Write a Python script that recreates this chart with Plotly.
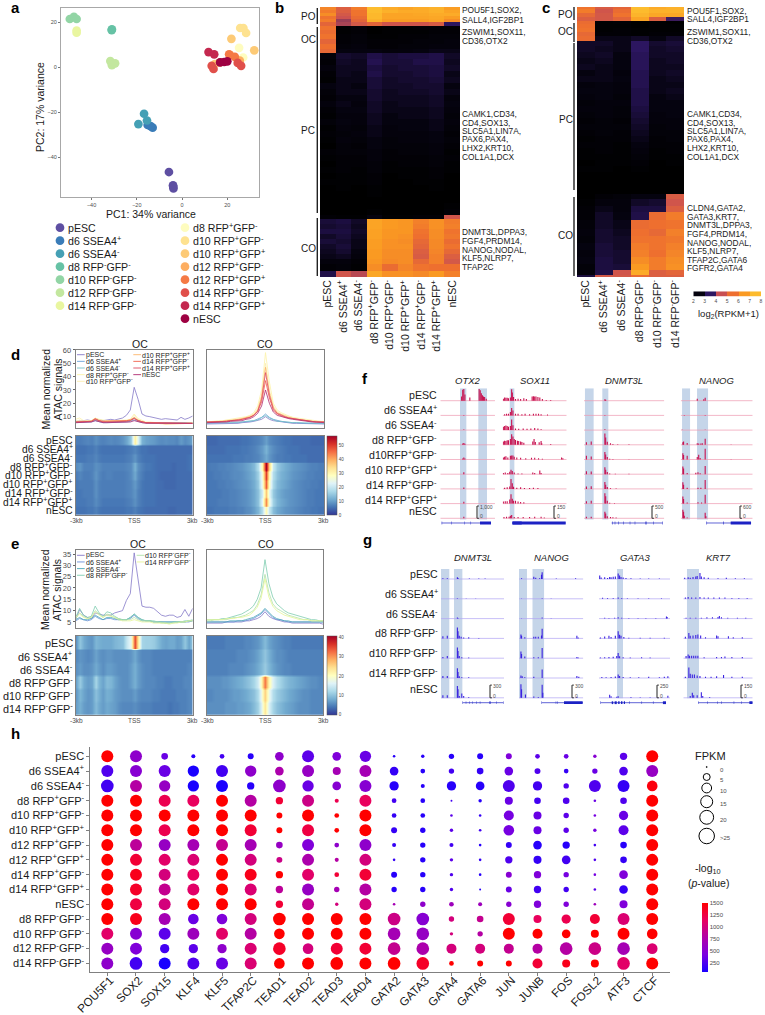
import math
import plotly.graph_objects as go

W, H = 765, 1015
FONT = "Liberation Sans"
DARK = "#1a1a1a"
GREY = "#4d4d4d"

# ---------- panel a ----------
a_names = ["pESC","d6 SSEA4<sup>+</sup>","d6 SSEA4<sup>-</sup>","d8 RFP<sup>-</sup>GFP<sup>-</sup>","d10 RFP<sup>-</sup>GFP<sup>-</sup>","d12 RFP<sup>-</sup>GFP<sup>-</sup>","d14 RFP<sup>-</sup>GFP<sup>-</sup>",
           "d8 RFP<sup>+</sup>GFP<sup>-</sup>","d10 RFP<sup>+</sup>GFP<sup>-</sup>","d10 RFP<sup>+</sup>GFP<sup>+</sup>","d12 RFP<sup>+</sup>GFP<sup>-</sup>","d12 RFP<sup>+</sup>GFP<sup>+</sup>","d14 RFP<sup>+</sup>GFP<sup>-</sup>","d14 RFP<sup>+</sup>GFP<sup>+</sup>","nESC"]
a_colors = ["#5e4fa2","#3a7cb8","#45a0b5","#66c2a5","#92d5a5","#c3e79f","#e9f6a0","#fefcbf","#fee290","#fdca76","#fdae61","#f57a45","#e04f4a","#c4284f","#9e0142"]
a_x = [[-5.8,-4,-3.8,-3.9],[-15.2,-13,-13.9],[-16.8,-15.5,-19.3],[-31.1,-31],[-49.6,-47.8,-46.6],[-31.7,-31,-29.6],[-46.6,-46.6],
       [25.2,27],[25.7,27.1,28.3],[21.8,31.9,14.5],[16.8,21.2,25.5],[20.8,23.3],[13.1,13.9,24.6,26.1],[11.7,14.2],[16.8,18.6,20]]
a_y = [[-46.5,-52.4,-53.8,-53],[-25.6,-26.8,-26.1],[-20.6,-23.6,-25.2],[16.6,16.9],[21.5,22.5,21.5],[2.8,1,1.8],[16.4,15.4],
       [8.7,4.4],[17.5,17.5,15.3],[12.7,7.6,1.5],[2.2,5.5,3],[5.8,4.7],[0.7,-0.7,2,0.7],[6.8,5.8],[2.2,2.4,2.7]]

# ---------- expression scale ----------
expr_stops = [2,2.5,3.5,4.5,5.5,6.5,7.5,8]
expr_cols = ["#000000","#05030f","#2c1660","#c84f52","#ee6f2f","#fa9a22","#fdbb2d","#fdc533"]
expr_bar_vals = [2.5,3.5,4.5,5.5,6.5,7.5]

# ---------- panel b ----------
b_samples = ["pESC","d6 SSEA4<sup>+</sup>","d6 SSEA4<sup>-</sup>","d8 RFP<sup>+</sup>GFP<sup>-</sup>","d10 RFP<sup>+</sup>GFP<sup>-</sup>","d10 RFP<sup>+</sup>GFP<sup>+</sup>","d14 RFP<sup>+</sup>GFP<sup>-</sup>","d14 RFP<sup>+</sup>GFP<sup>+</sup>","nESC"]
b_counts = [3,3,3,3,3,4, 4,4,5,5,5,4] + [6]*27 + [4,5,5,5,5,5,5,5,5,5,7,6]
b_matrix = [
 [6.0,5.0,5.8,7.6,7.0,6.8,7.0,7.2,6.6],[5.8,5.0,5.6,7.6,7.2,7.0,7.0,7.2,6.8],[6.2,4.8,5.6,7.4,6.8,6.8,6.9,7.0,7.0],
 [5.6,4.6,5.4,7.4,6.8,6.8,6.8,6.9,6.6],[5.8,4.2,5.2,7.2,6.6,6.6,6.6,6.8,6.2],[5.2,4.3,4.8,5.2,4.7,4.7,4.7,4.9,3.5],
 [5.6,2.1,2.3,2.0,2.1,2.1,2.2,2.2,2.2],[5.4,2.1,2.2,2.0,2.1,2.1,2.1,2.2,2.2],[5.6,2.2,2.3,2.1,2.1,2.2,2.2,2.3,2.3],
 [5.2,2.2,2.3,2.2,2.2,2.2,2.3,2.3,2.4],[5.5,2.3,2.4,2.2,2.2,2.3,2.3,2.4,2.4],[5.3,2.5,2.5,2.5,2.4,2.4,2.5,2.6,2.6],
 [2.3,2.9,2.8,3.2,3.0,3.1,3.1,3.2,2.8],[2.2,2.8,2.7,3.3,3.0,3.0,3.2,3.2,2.7],[2.4,2.7,2.7,3.1,2.9,3.0,3.0,3.1,2.8],
 [2.2,2.7,2.6,3.2,2.9,2.9,3.0,3.1,2.6],[2.1,2.6,2.6,3.0,2.8,2.9,2.9,3.0,2.7],[2.5,2.6,2.5,3.0,2.8,2.8,2.9,2.9,2.5],
 [2.3,2.6,2.6,2.9,2.7,2.8,2.8,2.9,2.6],[2.2,2.5,2.5,2.9,2.7,2.7,2.7,2.8,2.4],[2.4,2.6,2.4,2.8,2.6,2.7,2.7,2.8,2.5],
 [2.2,2.5,2.5,2.8,2.6,2.6,2.6,2.7,2.4],[2.1,2.4,2.4,2.7,2.5,2.6,2.6,2.7,2.3],[2.3,2.5,2.4,2.7,2.5,2.5,2.5,2.6,2.4],
 [2.1,2.4,2.3,2.6,2.4,2.5,2.5,2.6,2.3],[2.2,2.3,2.4,2.6,2.4,2.4,2.4,2.5,2.2],[2.1,2.4,2.3,2.5,2.3,2.4,2.4,2.5,2.3],
 [2.0,2.3,2.2,2.5,2.3,2.3,2.3,2.4,2.2],[2.2,2.3,2.3,2.4,2.2,2.3,2.3,2.4,2.1],[2.1,2.2,2.2,2.4,2.2,2.2,2.2,2.3,2.2],
 [2.0,2.2,2.2,2.3,2.1,2.2,2.2,2.3,2.1],[2.1,2.2,2.1,2.3,2.1,2.1,2.1,2.2,2.1],[2.0,2.1,2.1,2.2,2.0,2.1,2.1,2.2,2.0],
 [2.1,2.1,2.1,2.2,2.0,2.0,2.1,2.1,2.0],[2.0,2.1,2.0,2.1,2.0,2.0,2.0,2.1,2.0],[2.0,2.0,2.0,2.1,2.0,2.0,2.0,2.0,2.0],
 [2.0,2.0,2.0,2.0,2.0,2.0,2.0,2.0,2.0],[2.0,2.0,2.0,2.0,2.0,2.0,2.0,2.0,2.1],[2.0,2.0,2.0,2.1,2.0,2.0,2.0,2.0,2.2],
 [2.2,2.1,2.1,2.5,2.1,2.1,2.2,2.2,4.7],
 [3.0,3.1,2.8,6.8,6.5,6.4,5.9,6.3,5.8],[2.9,3.0,2.7,6.8,6.5,6.4,5.8,6.3,5.9],[3.1,3.1,2.8,6.7,6.4,6.4,5.6,6.2,5.6],
 [2.8,3.0,2.7,6.7,6.4,6.3,5.5,6.2,5.7],[3.0,2.9,2.6,6.6,6.3,6.2,5.3,6.1,5.4],[2.8,3.0,2.6,6.6,6.3,6.3,5.2,6.1,5.6],
 [2.7,2.9,2.5,6.5,6.2,6.2,5.0,6.0,5.3],[2.6,2.7,2.4,6.5,6.2,6.2,4.9,5.9,5.0],[2.4,2.4,2.2,6.4,6.1,6.2,5.3,5.9,4.8],
 [2.2,2.3,2.1,6.2,5.4,6.0,5.6,5.5,5.5],[3.2,4.7,4.4,6.9,6.3,6.3,6.1,6.5,5.9],
]
b_po = ["POU5F1,SOX2,","SALL4,IGF2BP1"]
b_oc = ["ZSWIM1,SOX11,","CD36,OTX2"]
b_pc = ["CAMK1,CD34,","CD4,SOX13,","SLC5A1,LIN7A,","PAX6,PAX4,","LHX2,KRT10,","COL1A1,DCX"]
b_co = ["DNMT3L,DPPA3,","FGF4,PRDM14,","NANOG,NODAL,","KLF5,NLRP7,","TFAP2C"]

# ---------- panel c ----------
c_samples = ["pESC","d6 SSEA4<sup>+</sup>","d6 SSEA4<sup>-</sup>","d8 RFP<sup>-</sup>GFP<sup>-</sup>","d10 RFP<sup>-</sup>GFP<sup>-</sup>","d14 RFP<sup>-</sup>GFP<sup>-</sup>"]
c_counts = [4,4,4,3, 4,4,4,4,5] + [6]*25 + [2] + [7,7,6,10,7,7,7,7,7,7,5,5]
c_matrix = [
 [5.6,4.9,5.2,7.6,7.0,7.2],[5.8,4.7,5.4,7.5,7.2,7.2],[5.3,4.8,5.6,7.3,6.9,6.9],[5.0,4.8,5.2,6.8,5.0,3.6],
 [5.4,2.1,2.2,2.0,2.1,2.0],[5.5,2.1,2.1,2.0,2.1,2.1],[5.6,2.1,2.2,2.1,2.1,2.1],[5.3,2.2,2.2,2.1,2.2,2.2],[5.4,2.6,2.6,2.8,2.5,2.8],
 [2.8,2.8,2.6,3.5,2.9,3.0],[2.8,2.7,2.6,3.5,2.8,2.9],[2.7,2.8,2.5,3.4,2.8,2.8],[2.6,2.7,2.5,3.4,2.7,2.8],[2.7,2.6,2.5,3.4,2.7,2.7],
 [2.5,2.6,2.4,3.3,2.7,2.8],[2.6,2.6,2.5,3.3,2.6,2.7],[2.4,2.5,2.4,3.3,2.6,2.6],[2.5,2.5,2.4,3.2,2.6,2.7],[2.4,2.5,2.3,3.2,2.5,2.6],
 [2.3,2.4,2.4,3.2,2.5,2.5],[2.4,2.4,2.3,3.1,2.5,2.5],[2.3,2.4,2.3,3.0,2.4,2.5],[2.2,2.3,2.2,2.9,2.4,2.4],[2.3,2.3,2.3,2.8,2.3,2.4],
 [2.2,2.3,2.2,2.7,2.3,2.3],[2.1,2.2,2.2,2.6,2.2,2.3],[2.2,2.2,2.1,2.5,2.2,2.2],[2.1,2.2,2.1,2.4,2.1,2.2],[2.1,2.1,2.1,2.3,2.1,2.1],
 [2.0,2.1,2.1,2.2,2.0,2.1],[2.1,2.1,2.0,2.1,2.0,2.0],[2.0,2.0,2.0,2.0,2.0,2.0],[2.0,2.0,2.0,2.0,2.0,2.0],[2.0,2.0,2.0,2.0,2.0,2.0],
 [2.0,2.0,2.0,2.0,2.0,2.0],
 [2.0,2.2,2.3,2.5,2.5,4.9],[2.1,2.4,2.4,2.8,2.9,4.7],[2.2,2.6,2.4,3.1,3.1,5.0],
 [2.2,2.8,2.5,3.2,5.4,5.8],[2.3,2.8,2.6,5.4,5.5,5.6],[2.4,2.9,2.7,5.5,5.3,5.9],[2.3,2.9,2.8,5.6,5.6,5.7],[2.5,3.0,2.8,5.8,5.6,5.9],
 [2.4,3.0,2.9,5.9,5.5,6.0],[2.5,3.1,2.9,6.2,5.8,6.2],[2.3,3.1,3.0,6.5,5.8,6.3],[2.4,3.2,4.7,7.0,5.0,5.2],[3.1,4.8,4.8,5.4,5.0,5.0],
]
c_po = ["POU5F1,SOX2,","SALL4,IGF2BP1"]
c_oc = ["ZSWIM1,SOX11,","CD36,OTX2"]
c_pc = ["CAMK1,CD34,","CD4,SOX13,","SLC5A1,LIN7A,","PAX6,PAX4,","LHX2,KRT10,","COL1A1,DCX"]
c_co = ["CLDN4,GATA2,","GATA3,KRT7,","DNMT3L,DPPA3,","FGF4,PRDM14,","NANOG,NODAL,","KLF5,NLRP7,","TFAP2C,GATA6","FGFR2,GATA4"]

# ---------- panels d / e ----------
profile_x = [-3.0,-2.8,-2.6,-2.4,-2.2,-2.0,-1.8,-1.6,-1.4,-1.2,-1.0,-0.8,-0.6,-0.4,-0.2,0.0,0.2,0.4,0.6,0.8,1.0,1.2,1.4,1.6,1.8,2.0,2.2,2.4,2.6,2.8,3.0]
d_labels = ["pESC","d6 SSEA4<sup>+</sup>","d6 SSEA4<sup>-</sup>","d8 RFP<sup>+</sup>GFP<sup>-</sup>","d10 RFP<sup>+</sup>GFP<sup>-</sup>","d10 RFP<sup>+</sup>GFP<sup>+</sup>","d14 RFP<sup>+</sup>GFP<sup>-</sup>","d14 RFP<sup>+</sup>GFP<sup>+</sup>","nESC"]
d_colors = ["#8478c8","#6aa3d8","#74c2c8","#fdf3a8","#fdeeb0","#fdb56a","#f2604a","#dc4a60","#b02a70"]
d_oc = [
 [6.5,6.5,7,7.5,7,8.5,7.5,7,7.5,8,7.5,8,9,11,15,32,23,12,10.5,10,9.5,8.5,8,8.5,8,8,7.5,9.5,8,9,10.5],
 [5.5,5.5,5.5,6,6,7,6,5.5,5.5,5.5,5.5,5.5,5.5,6,6.5,7.5,6.5,5.5,5.5,5,5,5,5,5,5,5,5,5,5,5,5],
 [6,6,6,6.5,6.5,7.5,6.5,6,6,6,6,6,6,6.5,7,9,7,6,5.5,5.5,5.5,5,5,5,5,5,5,5,5,5.5,5.5],
 [8,9,7,7,7,8.5,8,7,7,7,7,7,7,7.5,8,12,8.5,7,6,6,5.5,5,5,5,5,4.5,5,5,5,5.5,5.5],
 [6.5,7.5,6.5,6.5,7,9,7.5,6.5,7,7,6.5,6.5,6.5,7,8,11,8,6.5,5.5,5.5,5.5,5,4.5,4.5,4.5,4.5,5,5,5,5,5],
 [6,6.5,6.5,6.5,6.5,8.5,7,6.5,6.5,6.5,6.5,6.5,6.5,7,7.5,9.5,7.5,6,5.5,5.5,5.5,5,5,4.5,4.5,4.5,5,5,5,5,5],
 [6,6,6.5,6.5,6.5,8.5,7,6.5,6.5,6.5,6.5,6.5,6.5,7,7.5,9,7,6,5.5,5.5,5.5,5,5,5,5,5,5,5,5,5,5],
 [6,6,6,6.5,6.5,8,7,6,6,6,6,6,6,6.5,7,8.5,7,6,5.5,5.5,5.5,5,5,5,5,5,5,5,5,5,5],
 [5.5,5.5,5.5,6,6,7,6,5.5,5.5,5.5,5.5,5.5,5.5,6,6,7,6,5.5,5,5,5,5,5,5,4.5,4.5,5,5,5,5,5],
]
d_co = [
 [4.5,4.5,4.5,5,5,5,5,5,5,5.5,5.5,6,6.5,7,8,10,8,7,6.5,6,5.5,5.5,5,5,5,5,5,4.5,4.5,4.5,4.5],
 [5,5,5,5,5,5.5,5.5,5.5,5.5,6,6,6.5,7,8,9.5,12,9.5,8,7,6.5,6,5.5,5.5,5.5,5,5,5,5,5,5,5],
 [5.5,5.5,5.5,5.5,5.5,5.5,5.5,6,6,6,6.5,6.5,7,7.5,9,11,9,7.5,6.5,6.5,6,6,5.5,5.5,5.5,5.5,5,5,5,5,5],
 [6,6.5,6.5,7,7,7.5,7.5,8,8.5,9,10,11,13,18,30,58,36,20,15,13,11.5,10.5,9.5,9,8.5,8,7.5,7,7,6.5,6.5],
 [6,6,6.5,6.5,7,7,7.5,8,8,8.5,9.5,10.5,12,16,26,50,30,18,14,12,11,10,9,8.5,8,7.5,7,7,6.5,6.5,6],
 [6,6,6,6.5,6.5,7,7,7.5,8,8.5,9,10,11.5,15,25,47,28,17,13,11.5,10.5,9.5,8.5,8,7.5,7,7,6.5,6.5,6,6],
 [6,6,6,6,6.5,6.5,7,7,7.5,8,8.5,9.5,11,14,21,37,24,15,12,10.5,9.5,9,8.5,8,7.5,7,6.5,6.5,6,6,6],
 [6,6,6,6.5,6.5,6.5,7,7,7.5,8,8.5,9.5,11,14,23,43,26,16,12.5,11,10,9,8.5,8,7.5,7,6.5,6.5,6,6,6],
 [5.5,5.5,6,6,6,6,6.5,6.5,7,7,8,8.5,10,12.5,18,30,20,13.5,11,10,9,8.5,8,7.5,7,6.5,6.5,6,6,5.5,5.5],
]
e_labels = ["pESC","d6 SSEA4<sup>+</sup>","d6 SSEA4<sup>-</sup>","d8 RFP<sup>-</sup>GFP<sup>-</sup>","d10 RFP<sup>-</sup>GFP<sup>-</sup>","d14 RFP<sup>-</sup>GFP<sup>-</sup>"]
e_colors = ["#8478c8","#6a90d8","#4aa8b8","#7fcdb0","#b0e2a8","#e6f598"]
e_oc = [
 [6,10.5,8,7,6.5,9,8.5,8,8,8,9,9.5,10,14.5,17.5,35.5,24,12,11.5,11.5,11,9.5,8,7.5,8,8,7,7.5,10.5,7.5,11],
 [5.5,6.5,6,5.5,6,7.5,6.5,6,6.5,6.5,6,6,6,6,6.5,8,6.5,5.5,5.5,5.5,5,5,5,5,5,5,5,5,5,5,5.5],
 [6,7,6,6,6.5,8,7,6,7,7,6.5,6,6,6,7,8.5,7,6,5.5,5.5,5,5,5,5,5,5,5,5,5,5.5,5.5],
 [7,11,8,7,7.5,12,9,7.5,9.5,9,7.5,6.5,6,6,7,8.5,7,6,5.5,5.5,5.5,5,5,4.5,4.5,5,5,5,5.5,5.5,6],
 [6.5,9,7.5,6.5,7,10,8.5,7,8.5,8,7,6.5,6,6,6,7,6,5.5,5.5,5.5,5,5,4.5,4.5,4.5,4.5,5,5,5,5.5,5.5],
 [7,8.5,7,6.5,7,9.5,8,7,8,7.5,7,6,5.5,5.5,5.5,6,5.5,5,5,5,4.5,4.5,4.5,4.5,4,4.5,4.5,5,5,5.5,5.5],
]
e_co = [
 [4.5,4.5,4.5,4.5,4.5,5,5,5,5,5,5.5,5.5,6,6.5,7.5,9.5,7.5,6.5,6,5.5,5,5,4.5,4.5,4.5,4.5,4.5,4.5,4.5,4.5,4],
 [5,5,5,5,5,5,5,5,5.5,5.5,5.5,6,6.5,7.5,8.5,10.5,8.5,7,6,6,5.5,5,5,5,5,5,5,5,5,5,5],
 [5,5,5,5,5,5,5.5,5.5,5.5,5.5,6,6.5,7,8,9,11,9,7.5,6.5,6,5.5,5.5,5,5,5,5,5,5,5,5,5],
 [6,6,6,6,6.5,6.5,7,7.5,8,8.5,9.5,10.5,12,15,20,32.5,22,16,13,11.5,10,9,8.5,8,7.5,7,6.5,6,6,5.5,5.5],
 [5.5,5.5,6,6,6,6,6.5,7,7,7.5,8,9,10,12.5,17,26,18,13,11,10,9,8,7.5,7,6.5,6,6,5.5,5.5,5.5,5.5],
 [6,6,6,6,6,6.5,6.5,6.5,7,7,7.5,8,9.5,11.5,15.5,24,16,12,10,9,8,7.5,7,6.5,6,6,6,5.5,5.5,5.5,5.5],
]
rdylbu = ["#313695","#4575b4","#74add1","#abd9e9","#e0f3f8","#ffffbf","#fee090","#fdae61","#f46d43","#d73027","#a50026"]

# ---------- panel f ----------
f_labels = ["pESC","d6 SSEA4<sup>+</sup>","d6 SSEA4<sup>-</sup>","d8 RFP<sup>+</sup>GFP<sup>-</sup>","d10RFP<sup>+</sup>GFP<sup>-</sup>","d10 RFP<sup>+</sup>GFP<sup>+</sup>","d14 RFP<sup>+</sup>GFP<sup>-</sup>","d14 RFP<sup>+</sup>GFP<sup>+</sup>","nESC"]
f_genes = ["OTX2","SOX11","DNMT3L","NANOG"]
f_scales = [1000,150,500,600]
f_scale_text = ["1,000","150","500","600"]
f_otx2 = [[(39,350),(41,900),(43,950),(45,500),(54,250),(71,950),(73,850),(75,600),(77,450),(79,350),(81,300),(84,150)],
 [(43,40)],[(43,40)],[(41,100),(43,150),(45,80)],[(41,80),(43,170),(45,80)],[(43,150)],[(43,120)],[(43,150)],[(43,130)]]
f_sox11 = [
 [(1,25),(3,40),(5,35),(7,35),(9,30),(12,40),(14,140),(15,100),(17,45),(20,20),(24,25),(28,20),(33,30),(37,20),(46,50),(48,55),(50,50),(52,50),(55,45),(58,40),(62,20),(68,10),(75,10)],
 [(3,15),(6,20),(9,20),(12,40),(14,90),(16,60),(20,20),(24,20),(30,15),(35,20),(42,15),(48,20),(52,20),(56,20),(60,15),(70,10)],
 [(1,40),(3,50),(5,55),(7,50),(9,40),(12,50),(14,130),(16,60),(20,20),(25,15),(32,20),(38,15),(44,20),(50,25),(55,20),(60,10)],
 [(1,40),(3,50),(5,45),(7,55),(9,55),(12,70),(14,130),(16,100),(18,70),(20,60),(23,50),(25,45),(28,40),(30,35),(33,25),(47,40),(49,70),(51,35),(57,30),(60,45),(61,20),(75,10)],
 [(1,25),(3,35),(5,40),(8,25),(12,45),(14,50),(16,50),(18,35),(22,25),(28,20),(36,15),(45,20),(50,20),(56,15),(62,10),(92,25),(94,15)],
 [(1,15),(4,20),(8,15),(11,30),(13,55),(15,40),(18,20),(24,10),(30,10),(47,20),(50,15),(58,45),(60,15)],
 [(3,15),(7,20),(11,30),(13,120),(15,70),(17,25),(22,15),(28,20),(34,10),(42,10),(48,15),(55,10)],
 [(1,25),(4,30),(7,30),(11,50),(13,115),(15,60),(17,35),(20,35),(24,25),(28,20),(33,15)],
 [(2,15),(6,20),(10,20),(12,30),(14,40),(18,15),(24,15),(32,15),(42,15),(50,20),(60,20),(65,10)]]
f_dnmt3l = [
 [(26,60),(27,40)],[(26,15)],[(26,30)],
 [(3,100),(9,130),(26,460),(27,300),(29,120),(33,60),(36,30),(42,25),(56,20)],
 [(3,150),(9,120),(26,300),(27,200),(29,100),(32,30),(36,20),(56,15)],
 [(3,120),(9,110),(26,280),(27,180),(29,90),(32,30),(39,15),(56,15)],
 [(3,100),(9,110),(26,280),(27,170),(29,80),(33,30),(40,15)],
 [(3,100),(9,120),(26,420),(27,300),(29,120),(32,30),(38,20)],
 [(3,60),(9,60),(26,270),(27,200),(29,80),(33,50),(36,40),(40,30)]]
f_nanog = [
 [(23,90),(32,70),(34,140)],[(5,15),(34,15)],[(2,20),(34,20)],
 [(3,120),(4,160),(9,90),(23,80),(25,60),(28,60),(30,70),(34,300),(70,15)],
 [(3,300),(4,220),(9,180),(23,120),(25,230),(27,70),(34,520),(70,15)],
 [(3,370),(4,280),(9,60),(21,70),(24,90),(27,50),(34,400)],
 [(3,330),(4,200),(9,50),(24,60),(28,50),(34,430)],
 [(3,350),(4,220),(9,50),(24,60),(29,50),(34,430)],
 [(3,420),(4,320),(5,120),(9,40),(34,270),(35,100)]]
f_bands = [[(36,47.6),(69.5,85.4)],[(11,18.2)],[(1.2,12),(22.8,30.3)],[(1.9,13),(22.7,38)]]
f_spans = [(2.4,92.7),(15,98.4),(34.4,97.8),(36.1,97.7)]
f_exons = [[(2.6,3.4),(20.6,21.4),(44.4,45.2),(55.4,56.2),(72.6,92.7)],[(15,98.4),(15.6,29.7)],
           [(35.4,36),(38.3,38.9),(42.4,43),(48.7,49.3),(57,57.6),(63.2,63.8),(76.6,77.8),(86,86.6),(97.5,98.1)],
           [(35.8,36.6),(59,59.8),(69.4,97.7)]]

# ---------- panel g ----------
g_labels = ["pESC","d6 SSEA4<sup>+</sup>","d6 SSEA4<sup>-</sup>","d8 RFP<sup>-</sup>GFP<sup>-</sup>","d10 RFP<sup>-</sup>GFP<sup>-</sup>","d14 RFP<sup>-</sup>GFP<sup>-</sup>","nESC"]
g_genes = ["DNMT3L","NANOG","GATA3","KRT7"]
g_scales = [300,300,250,150]
g_scale_text = ["300","300","250","150"]
g_dnmt3l = [
 [(3,15),(10,15),(26,40),(27,25),(45,10),(60,10),(70,10)],[(26,15),(40,10),(55,10)],[(26,25),(27,15)],
 [(3,50),(10,60),(26,260),(27,170),(29,60),(32,40),(36,20),(44,25),(60,10)],
 [(3,30),(10,50),(26,250),(27,170),(29,50),(33,20),(44,15)],
 [(3,50),(10,50),(26,230),(27,140),(29,40),(33,20),(44,20)],
 [(3,60),(10,60),(26,280),(27,200),(29,40),(33,100),(36,40),(44,20)]]
g_nanog = [
 [(4,15),(23,55),(26,30),(32,20),(35,100),(36,160),(58,10),(88,15)],[(4,10),(36,15),(50,10)],[(4,10),(36,25),(50,10)],
 [(3,90),(4,60),(9,30),(23,40),(26,40),(30,40),(35,70),(36,230),(90,60),(92,20)],
 [(3,160),(4,100),(9,40),(23,20),(30,20),(36,240),(90,30),(92,15)],
 [(3,60),(5,40),(9,20),(23,30),(36,200),(90,50),(93,30)],
 [(3,320),(4,200),(10,80),(23,30),(30,20),(36,310),(37,120),(90,25)]]
g_gata3 = [
 [(1,70),(3,30),(8,35),(12,20),(15,40),(17,35),(20,45),(23,50),(27,110),(29,70),(31,40),(34,30),(38,20),(45,15),(58,10),(70,10),(85,10)],
 [(5,20),(12,15),(20,15),(27,25),(32,15),(40,10),(55,10),(70,10),(88,10)],
 [(8,15),(14,10),(22,15),(27,25),(32,15),(42,10),(55,10),(66,10),(80,10),(95,40),(96,30)],
 [(2,20),(8,35),(14,50),(17,30),(23,50),(27,140),(29,70),(31,50),(35,30),(42,15),(58,15),(72,15),(92,15)],
 [(2,15),(8,20),(14,25),(20,30),(25,45),(27,100),(29,40),(34,20),(44,15),(60,20),(72,15)],
 [(4,20),(10,15),(17,20),(23,30),(27,70),(29,40),(34,20),(44,15),(56,15),(70,25),(85,15),(92,25),(97,35)],
 [(15,60),(17,30),(25,20),(27,30),(45,15),(58,10),(72,10),(97,40)]]
g_krt7 = [
 [(2,15),(7,20),(10,15),(14,25),(18,30),(20,35),(24,70),(26,30),(30,20),(36,15),(50,10),(62,15),(75,10),(88,10)],
 [(3,15),(7,20),(12,15),(18,15),(24,20),(30,15),(36,15),(44,15),(52,15),(60,15),(70,10),(80,10),(92,10)],
 [(4,10),(10,10),(18,10),(26,10),(34,15),(42,15),(50,20),(52,30),(55,15),(64,10),(78,10),(90,10)],
 [(3,20),(8,65),(10,30),(14,35),(18,40),(21,45),(25,35),(32,15),(48,35),(50,25),(65,25),(72,15),(85,15)],
 [(4,25),(7,45),(9,30),(12,30),(15,30),(18,30),(21,30),(30,10),(48,15),(55,15),(60,20),(70,15),(85,15)],
 [(3,15),(8,125),(10,50),(13,40),(16,40),(20,30),(24,25),(32,15),(40,15),(48,20),(58,35),(70,15),(85,15)],
 [(10,20),(13,60),(15,30),(20,30),(26,65),(28,20),(38,10)]]
g_bands = [[(0,13.2),(20.6,33.9)],[(0,12.4),(21,39)],[(25.4,33.8)],[(5.3,22.6)]]
g_spans = [(34.4,98.9),(35.3,99.5),(2.4,94.4),(21.6,100)]
g_exons = [[(34.1,34.7),(39.4,40),(44.7,45.3),(50,50.6),(56.3,56.9),(61.7,62.3),(77,78.6),(88.1,88.7),(98.5,99.1)],
           [(35,35.6),(57.2,57.8),(59.4,60),(70,99)],
           [(2.1,2.7),(17.9,20),(22,25),(27,29),(31,33),(35,36.6),(43,43.6),(60,60.6),(76,76.6),(90,94.4)],
           [(21.3,21.9),(34.8,35.4),(48.7,49.3),(55,55.6),(72.7,73.3),(83.7,84.3),(95.2,100)]]

# ---------- panel h ----------
h_samples = ["pESC","d6 SSEA4<sup>+</sup>","d6 SSEA4<sup>-</sup>","d8 RFP<sup>+</sup>GFP<sup>-</sup>","d10 RFP<sup>+</sup>GFP<sup>-</sup>","d10 RFP<sup>+</sup>GFP<sup>+</sup>","d12 RFP<sup>+</sup>GFP<sup>-</sup>","d12 RFP<sup>+</sup>GFP<sup>+</sup>","d14 RFP<sup>+</sup>GFP<sup>-</sup>","d14 RFP<sup>+</sup>GFP<sup>+</sup>","nESC","d8 RFP<sup>-</sup>GFP<sup>-</sup>","d10 RFP<sup>-</sup>GFP<sup>-</sup>","d12 RFP<sup>-</sup>GFP<sup>-</sup>","d14 RFP<sup>-</sup>GFP<sup>-</sup>"]
h_factors = ["POU5F1","SOX2","SOX15","KLF4","KLF5","TFAP2C","TEAD1","TEAD2","TEAD3","TEAD4","GATA2","GATA3","GATA4","GATA6","JUN","JUNB","FOS","FOSL2","ATF3","CTCF"]
h_fpkm = [
 [15,15,4.6,1.7,2.3,3.7,7.8,15,7.8,13.4,.7,1.2,3,3.7,3.7,2.3,2.3,1.2,5.6,15],
 [15,15,15,13.4,15,13.4,7.8,15,6.7,15,7.8,2.3,3,4.6,7.8,3.7,2.3,3,7.8,15],
 [16.7,15,13.4,13.4,15,5.6,16.7,13.4,7.8,15,9,1.7,9,7.8,15,9,3,15,15,11.8],
 [15,15,15,15,15,15,5.6,15,1.7,15,2.3,2.3,.4,1.2,6.7,4.6,4.6,.7,4.6,15],
 [15,15,15,15,15,15,3.7,15,2.3,15,2.3,2.3,.7,.7,10.4,6.7,3,.7,9,15],
 [15,15,15,15,15,15,3.7,15,2.3,15,3.7,3,1.2,.7,11.8,6.7,3,1.2,10.4,15],
 [15,15,15,15,15,15,4.6,15,2.3,15,1.7,3,1.7,.7,3.7,7.8,5.6,.7,4.6,15],
 [15,15,15,15,15,15,3.7,15,1.7,15,.7,3,1.2,.7,5.6,6.7,7.8,.7,4.6,15],
 [15,15,15,15,15,15,5.6,15,2.3,15,3.7,3,1.2,.7,3.7,5.6,3,.7,7.8,15],
 [15,15,15,15,15,15,5.6,15,3,15,3,3,1.2,.4,3.7,5.6,3,.7,7.8,15],
 [15,15,15,15,15,15,5.6,15,1.2,15,.7,3,2.3,1.7,3,5.6,3,.7,6.7,15],
 [15,15,15,11.8,11.8,15,16.7,15,15,15,16.7,16.7,3,4.6,15,6.7,9,10.4,15,15],
 [15,15,15,15,15,15,11.8,15,15,15,16.7,16.7,1.2,3,15,10.4,7.8,6.7,15,11.8],
 [15,15,9,9,9,15,16.7,11.8,15,15,16.7,16.7,10.4,10.4,10.4,10.4,16.7,16.7,16.7,11.8],
 [15,16.7,15,15,15,15,11.8,15,16.7,15,16.7,16.7,2.3,3.7,3.7,10.4,6.7,6.7,16.7,15],
]
h_pval = [
 [1500,550,350,100,200,100,550,300,450,350,100,100,100,100,450,300,350,500,300,1500],
 [250,500,350,50,200,550,750,600,700,700,150,100,200,150,350,250,150,350,250,600],
 [200,800,600,50,50,100,550,350,500,500,100,100,100,100,250,200,250,250,150,1450],
 [1500,1500,1200,1150,1500,800,1300,950,1200,1150,200,100,200,100,350,200,250,350,250,1500],
 [1500,1500,1500,1500,1500,1500,1500,1500,1500,1500,150,100,300,150,400,350,300,400,350,1500],
 [1500,1500,1200,1500,1500,1300,1500,1250,1500,1500,150,100,300,200,400,350,300,400,300,1500],
 [1500,850,600,700,900,700,600,450,550,550,150,100,200,100,150,100,100,200,100,1500],
 [1500,1300,1100,1050,1500,1000,950,750,800,1000,150,100,300,150,250,150,200,250,150,1500],
 [1500,1400,1000,1150,1500,1400,1500,1100,1300,1300,100,100,250,100,500,450,400,400,450,1500],
 [1500,1350,900,1100,1500,1050,850,600,700,800,100,100,250,100,350,200,200,300,150,1500],
 [1500,1250,1000,1500,1500,1500,1300,900,1000,1000,700,550,650,650,500,450,450,650,450,1500],
 [1500,1400,700,350,450,1000,1500,1500,1500,1500,950,500,1000,900,1300,1150,1200,1300,1050,1500],
 [1100,500,300,650,1100,800,1500,1500,1500,1500,700,600,1000,800,1500,1500,1500,1500,1500,1500],
 [600,450,200,300,550,1050,1350,1000,1300,1300,900,750,1000,1000,900,800,800,950,700,1050],
 [550,200,50,250,350,1050,1500,1500,1500,1500,1500,1350,1500,1500,1500,1300,1400,1500,1100,1500],
]
h_legend_fpkm = [0.1,5,10,15,20,25]
h_legend_text = ["0","5","10","15","20",">25"]
h_scale = [[0,"#1a00ff"],[0.25,"#7a00e0"],[0.5,"#b000a8"],[0.75,"#e80060"],[1,"#ff0000"]]
h_k = 3.1  # diameter per sqrt(FPKM)

# ---------- helpers ----------
fig = go.Figure()
layout = dict(width=W, height=H, margin=dict(l=0, r=0, t=0, b=0, pad=0, autoexpand=False), paper_bgcolor="white", plot_bgcolor="rgba(0,0,0,0)",
              showlegend=False, font=dict(family=FONT, color=DARK))
annotations, shapes = [], []
ax_n = [0]

def px_x(x): return x / W
def px_y(y): return 1 - y / H

def axes(box, xkw=None, ykw=None):
    ax_n[0] += 1
    n = ax_n[0]
    x0, y0, x1, y1 = box
    s = "" if n == 1 else str(n)
    base = dict(showgrid=False, zeroline=False, showline=False, ticks="", showticklabels=False)
    xa = dict(base, domain=[px_x(x0), px_x(x1)], anchor=f"y{s}")
    ya = dict(base, domain=[px_y(y1), px_y(y0)], anchor=f"x{s}")
    xa.update(xkw or {}); ya.update(ykw or {})
    layout[f"xaxis{s}"] = xa
    layout[f"yaxis{s}"] = ya
    return f"x{s}", f"y{s}"

def text(x, y, s, size=10, anchor="left", color=DARK, angle=0, bold=False, italic=False):
    if bold: s = f"<b>{s}</b>"
    if italic: s = f"<i>{s}</i>"
    annotations.append(dict(x=px_x(x), y=px_y(y), xref="paper", yref="paper", text=s, showarrow=False,
                            xanchor=anchor, yanchor="middle", textangle=angle, xshift=0, yshift=0,
                            font=dict(size=size, color=color, family=FONT), borderpad=0, borderwidth=0, align=anchor))

def line(x0, y0, x1, y1, color=DARK, width=1):
    shapes.append(dict(type="line", xref="paper", yref="paper", x0=px_x(x0), x1=px_x(x1), y0=px_y(y0), y1=px_y(y1),
                       line=dict(color=color, width=width)))

box_style = dict(showline=True, mirror=True, linecolor="#808080", linewidth=1)

# ---------- panel a ----------
xa, ya = axes((61, 8, 259, 197),
              dict(box_style, linecolor="#a8a8a8", range=[-53.5, 34], tickvals=[-40,-20,0,20], showticklabels=True, ticks="outside", ticklen=2, tickwidth=0.6,
                   tickcolor="#777", tickfont=dict(size=5.5, color=GREY)),
              dict(box_style, linecolor="#a8a8a8", range=[-57.6, 26.4], tickvals=[-40,-20,0,20], showticklabels=True, ticks="outside", ticklen=2, tickwidth=0.6,
                   tickcolor="#777", tickfont=dict(size=5.5, color=GREY)))
for xs, ys, c in zip(a_x, a_y, a_colors):
    fig.add_trace(go.Scatter(x=xs, y=ys, mode="markers", marker=dict(size=8.7, color=c, line=dict(width=0), opacity=1), xaxis=xa, yaxis=ya))
text(150.7, 214, "PC1: 34% variance", 10.5, "center")
text(40, 107, "PC2: 17% variance", 10.5, "center", angle=-90)

# page overlay axes for legend keys, in pixels
page_x, page_y = axes((0, 0, W, H), dict(range=[0, W], visible=False), dict(range=[H, 0], visible=False))
leg_x, leg_y = [], []
for i, (name, c) in enumerate(zip(a_names, a_colors)):
    col = 0 if i < 7 else 1
    r = i if i < 7 else i - 7
    mx, tx = (60, 67.7) if col == 0 else (185, 193.3)
    my = 227.7 + 13 * r
    leg_x.append(mx); leg_y.append(my)
    text(tx, my, name, 10.6)
fig.add_trace(go.Scatter(x=leg_x, y=leg_y, mode="markers", marker=dict(size=8.7, color=a_colors, line=dict(width=0), opacity=1), xaxis=page_x, yaxis=page_y))

# ---------- panels b, c ----------
expr_scale = [[(v - 2) / 6, c] for v, c in zip(expr_stops, expr_cols)]

def expr_heat(box, samples, counts, matrix):
    xa, ya = axes(box, dict(range=[-0.5, len(samples) - 0.5], tickvals=list(range(len(samples))), ticktext=samples, showticklabels=True,
                            tickangle=-90, tickfont=dict(size=10.5, color=DARK), ticks="", ticklen=0),
                  dict(range=[sum(counts), 0]))
    edges = [0]
    for c in counts: edges.append(edges[-1] + c)
    fig.add_trace(go.Heatmap(z=matrix, x=list(range(len(samples))), y=edges, zmin=2, zmax=8, colorscale=expr_scale, showscale=False,
                             xaxis=xa, yaxis=ya, xgap=0, ygap=0))

expr_heat((320, 7, 460, 277), b_samples, b_counts, b_matrix)
expr_heat((577, 7, 684.3, 277), c_samples, c_counts, c_matrix)

for lab, (x, y) in zip(["PO","OC","PC","CO"], [(308,16),(308,40),(308,130),(308,249)]):
    text(x, y, lab, 10, "center")
for lab, (x, y) in zip(["PO","OC","PC","CO"], [(565,14),(565,31),(566,120),(565,235)]):
    text(x, y, lab, 10, "center")
for y0, y1 in [(8,24),(27,213),(218,276)]:
    line(317.3, y0, 317.3, y1, "#222", 1.4)
for y0, y1 in [(7,20),(23,42),(43,190),(197,276)]:
    line(574, y0, 574, y1, "#222", 1.4)

for lines, ys in [(b_po,[10,19.5]),(b_oc,[32,41]),(b_pc,[114,122.7,130.7,139,148,157]),(b_co,[232.3,241,250,258.3,267])]:
    for s, y in zip(lines, ys): text(461.7, y, s, 8.4)
for lines, ys in [(c_po,[10.7,19.3]),(c_oc,[32.3,41.3]),(c_pc,[114,122.7,131,139.3,148.3,157.3]),(c_co,[208.3,216.7,225.3,234,242.7,251.3,260,268.3])]:
    for s, y in zip(lines, ys): text(687.3, y, s, 8.4)

# stepped scale bar
xa, ya = axes((693.3, 291.3, 761, 296.7),
              dict(range=[2, 8], tickvals=[2,3,4,5,6,7,8], showticklabels=True, tickfont=dict(size=5, color=GREY), ticklen=0),
              dict(range=[0, 1]))
fig.add_trace(go.Heatmap(z=[expr_bar_vals], x=expr_bar_vals, y=[0.5], zmin=2, zmax=8, colorscale=expr_scale, showscale=False, xaxis=xa, yaxis=ya))
text(728, 314, "log<sub>2</sub>(RPKM+1)", 9.5, "center")

# ---------- panels d, e ----------
ROW_REPEAT = 5   # each sample's row is drawn several image lines tall so smoothing stays inside the row

def profile_panel(title, tx, title_y, line_box, heat_box, series, colors, yr, ticks, zmax, bar=None, ylabels=False):
    xa, ya = axes(line_box, dict(box_style, range=[-3, 3]),
                  dict(box_style, range=yr, tickvals=ticks if ylabels else [], showticklabels=ylabels, ticks="outside" if ylabels else "",
                       ticklen=2, tickcolor="#666", tickwidth=0.6, tickfont=dict(size=7.5, color=GREY)))
    for s, c in zip(series, colors):
        fig.add_trace(go.Scatter(x=profile_x, y=s, mode="lines", line=dict(color=c, width=0.8), xaxis=xa, yaxis=ya))
    text(tx, title_y, title, 10.5, "center")
    xh, yh = axes(heat_box, dict(box_style, range=[-3.0, 3.0]), dict(box_style, range=[len(series), 0]))
    z_rows, y_rows = [], []
    for r, s in enumerate(series):
        for k in range(ROW_REPEAT):
            z_rows.append(s)
            y_rows.append(r + (k + 0.5) / ROW_REPEAT)
    hm = dict(z=z_rows, x=profile_x, y=y_rows, zmin=0, zmax=zmax, colorscale=rdylbu, zsmooth="best", xaxis=xh, yaxis=yh, showscale=False)
    if bar:
        x0, y0, x1, y1, tv = bar
        hm.update(showscale=True, colorbar=dict(x=px_x(x0), xanchor="left", y=px_y(y1), yanchor="bottom", len=(y1 - y0) / H, lenmode="fraction",
                                                thickness=x1 - x0, thicknessmode="pixels", xpad=0, ypad=0, outlinewidth=0.5, outlinecolor="#555",
                                                tickvals=tv, ticks="", ticklen=0, tickfont=dict(size=4.5, color=GREY)))
    fig.add_trace(go.Heatmap(**hm))

profile_panel("OC", 140, 344, (75.7, 349.7, 192.7, 428), (75.7, 435.7, 192.7, 515), d_oc, d_colors, [1.5, 60.2], [10,20,30,40,50,60], 57, ylabels=True)
profile_panel("CO", 265, 344, (207, 349.7, 324, 428), (207, 435.7, 324, 515), d_co, d_colors, [1.5, 60.2], [], 57, bar=(327.3, 436, 337.3, 515, [0,10,20,30,40,50]))
profile_panel("OC", 138, 544.3, (75.7, 549.7, 192.7, 628.3), (75.7, 636, 192.7, 714.7), e_oc, e_colors, [2.2, 36.9], [5,10,15,20,25,30,35], 41, ylabels=True)
profile_panel("CO", 266, 544.3, (206.7, 549.7, 323.3, 628.3), (206.7, 636, 323.3, 714.7), e_co, e_colors, [2.2, 36.9], [], 41, bar=(326.7, 636, 336.7, 714.7, [0,10,20,30,40]))

text(45, 389.5, "Mean normalized", 10.5, "center", angle=-90)
text(57, 389.5, "ATAC signals", 10.5, "center", angle=-90)
text(45, 590, "Mean normalized", 10.5, "center", angle=-90)
text(57, 590, "ATAC signals", 10.5, "center", angle=-90)

for i, (lab, c) in enumerate(zip(d_labels, d_colors)):
    cx0, tx, r = (77, 86, i) if i < 5 else (133.3, 141.7, i - 5)
    y = 354.7 + 6.65 * r
    line(cx0, y, cx0 + 7.7, y, c, 0.9)
    text(tx, y, lab, 7)
for i, (lab, c) in enumerate(zip(e_labels, e_colors)):
    cx0, tx, r = (77, 86, i) if i < 4 else (136.7, 145, i - 4)
    y = 555.3 + 6.65 * r
    line(cx0, y, cx0 + 7.7, y, c, 0.9)
    text(tx, y, lab, 7)

for i, lab in enumerate(d_labels):
    text(73.3, 440.1 + 8.81 * i, lab, 10.2, "right")
for i, lab in enumerate(e_labels):
    text(73.3, 642.5 + 13.1 * i, lab, 10.8, "right")
for ytxt in (520, 720):
    for x, s in [(76,"-3kb"),(134,"TSS"),(192,"3kb"),(208,"-3kb"),(265,"TSS"),(323,"3kb")]:
        text(x, ytxt, s, 6.5, "center", color=GREY)

# ---------- panels f, g ----------
def tracks(base0, pitch, top, bottom, cols, genes, peaks, bands, spans, exons, scales, scale_text, peak_col, base_col, model_y, bar_px, title_y, band_bottom):
    for (x0, x1, brk), gene, pk, bd, sp, ex, sc, st in zip(cols, genes, peaks, bands, spans, exons, scales, scale_text):
        xa, ya = axes((x0, top, x1, bottom), dict(range=[0, 100]), dict(range=[(bottom - base0) / pitch, (top - base0) / pitch]))
        for a, b in bd:
            shapes.append(dict(type="rect", xref=xa, yref=ya, x0=a, x1=b, y0=(top - base0) / pitch,
                               y1=(band_bottom - base0) / pitch, fillcolor="#c5d5e9", line=dict(width=0), layer="below"))
        bx, by = [], []
        for r in range(len(pk)):
            bx += [0, 100, None]; by += [r, r, None]
        fig.add_trace(go.Scatter(x=bx, y=by, mode="lines", line=dict(color=base_col, width=0.7), xaxis=xa, yaxis=ya))
        sx, sy = [], []
        for r, row in enumerate(pk):
            for p, v in row:
                sx += [p, p, None]; sy += [r, r - v / sc * bar_px / pitch, None]
        fig.add_trace(go.Scatter(x=sx, y=sy, mode="lines", line=dict(color=peak_col, width=1.1), xaxis=xa, yaxis=ya))
        my = (model_y - base0) / pitch
        fig.add_trace(go.Scatter(x=[sp[0], sp[1]], y=[my, my], mode="lines", line=dict(color="#1c22c4", width=0.7), xaxis=xa, yaxis=ya))
        ex_x, ex_y = [], []
        for a, b in ex:
            ex_x += [a, b, None]; ex_y += [my, my, None]
        fig.add_trace(go.Scatter(x=ex_x, y=ex_y, mode="lines", line=dict(color="#1c22c4", width=2.8), xaxis=xa, yaxis=ya))
        text((x0 + x1) / 2, title_y, gene, 9.5, "center", italic=True)
        last = base0 + pitch * (len(pk) - 1)
        line(brk, last - bar_px, brk, last, "#222", 1)
        line(brk, last - bar_px, brk + 2, last - bar_px, "#222", 0.8)
        line(brk, last, brk + 2, last, "#222", 0.8)
        text(brk + 3, last - bar_px + 1, st, 5, color=GREY)
        text(brk + 3, last - 2, "0", 5, color=GREY)

f_base0, f_pitch = 400.7, 14.7
tracks(f_base0, f_pitch, 388.3, 526, [(440.3,495,477),(502.7,566.7,554),(584,664.3,652),(680.7,752.7,740)], f_genes,
       [f_otx2,f_sox11,f_dnmt3l,f_nanog], f_bands, f_spans, f_exons, f_scales, f_scale_text, "#c8104f", "#ee9ab0", 523, 12.3, 380, 519.5)
g_base0, g_pitch = 579, 19.8
tracks(g_base0, g_pitch, 569, 706, [(441,504,490),(519,583.3,572),(599,670,657),(683.3,752.7,741)], g_genes,
       [g_dnmt3l,g_nanog,g_gata3,g_krt7], g_bands, g_spans, g_exons, g_scales, g_scale_text, "#3a22e0", "#b0a4f4", 702.7, 12.7, 557.7, 698.3)
for i, lab in enumerate(f_labels):
    text(437.3, 395 + 14.9 * i - (3 if i == 8 else 0), lab, 10.6, "right")
for i, lab in enumerate(g_labels):
    text(438.3, 573.7 + 19.7 * i - (3 if i == 6 else 0), lab, 10.6, "right")

# ---------- panel h ----------
xa, ya = axes((90.3, 747, 670, 972),
              dict(range=[-0.593, 19.62], showline=True, linecolor="#808080", linewidth=1, tickvals=list(range(20)), ticktext=h_factors, showticklabels=True,
                   tickangle=-45, ticks="outside", ticklen=3, tickcolor="#808080", tickwidth=0.7, tickfont=dict(size=11.7, color=DARK), ticklabelstandoff=-7, ticklabelshift=3),
              dict(range=[14.58, -0.63], showline=True, linecolor="#808080", linewidth=1, tickvals=list(range(15)), ticktext=h_samples, showticklabels=True,
                   ticks="outside", ticklen=3, tickcolor="#808080", tickwidth=0.7, tickfont=dict(size=11, color=DARK)))
dx, dy, ds, dc = [], [], [], []
for r, (fr, pr) in enumerate(zip(h_fpkm, h_pval)):
    for c, (f, p) in enumerate(zip(fr, pr)):
        dx.append(c); dy.append(r); ds.append(h_k * math.sqrt(f)); dc.append(p)
fig.add_trace(go.Scatter(x=dx, y=dy, mode="markers", xaxis=xa, yaxis=ya,
                         marker=dict(size=ds, color=dc, opacity=1, cmin=50, cmax=1500, colorscale=h_scale, line=dict(width=0), showscale=True,
                                     colorbar=dict(x=px_x(702), xanchor="left", y=px_y(972), yanchor="bottom", len=69 / H, lenmode="fraction", thickness=6.3,
                                                   thicknessmode="pixels", xpad=0, ypad=0, outlinewidth=0, ticks="", tickvals=[250,500,750,1000,1250,1500],
                                                   tickfont=dict(size=6, color=GREY)))))
text(710, 755.7, "FPKM", 11, "center")
leg_ys = [767, 777, 788, 801.7, 817.3, 836]
lab_ys = [769.7, 779.7, 790.7, 804.3, 820.3, 838.3]
fig.add_trace(go.Scatter(x=[706.7] * 6, y=leg_ys, mode="markers", xaxis=page_x, yaxis=page_y,
                         marker=dict(size=[h_k * math.sqrt(v) for v in h_legend_fpkm], color="white", opacity=1, line=dict(color="black", width=1))))
for s, y in zip(h_legend_text, lab_ys):
    text(720, y, s, 6, color=GREY)
text(708, 869, "-log<sub>10</sub>", 10.5, "center")
text(708, 882.7, "(<i>p</i>-value)", 10.5, "center")

# ---------- panel letters ----------
for s, x, y in [("a",15,7),("b",279,7),("c",546,7),("d",15,354),("e",15,543),("f",365,378),("g",367,539),("h",15,733)]:
    text(x, y, s, 15, "center", bold=True, color="black")

layout["annotations"] = annotations
layout["shapes"] = shapes
fig.update_layout(**layout)
fig.write_html("out.html", post_script="document.body.style.margin='0';document.body.style.overflow='hidden';", config={"displayModeBar": False})
